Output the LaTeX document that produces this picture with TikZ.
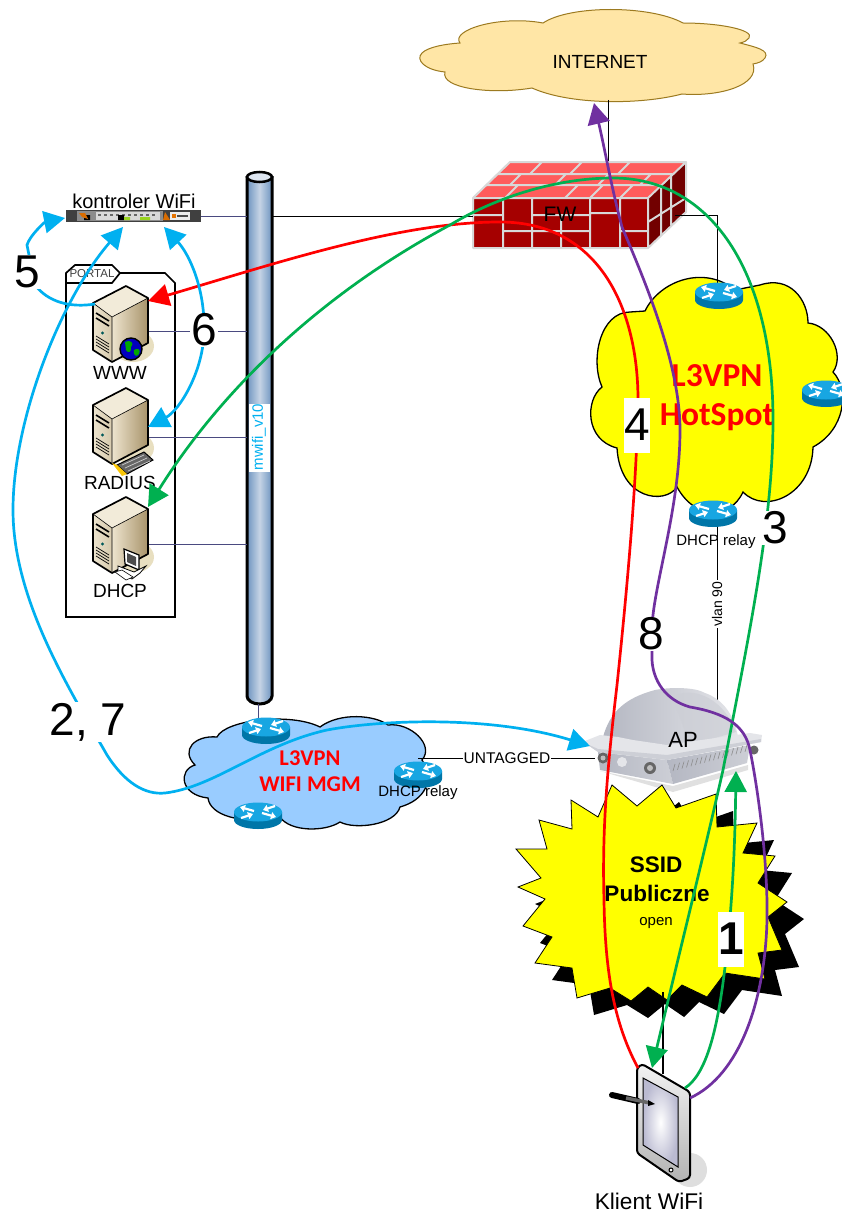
\documentclass[tikz,border=0pt]{standalone}
\usepackage{fontspec}
\setmainfont{Liberation Sans}
\newfontfamily\calb{Carlito}[BoldFont=Carlito Bold]
\usetikzlibrary{arrows.meta,calc,shapes.geometric}
\definecolor{cyanb}{HTML}{00B0F0}
\definecolor{greenb}{HTML}{00B050}
\definecolor{purpleb}{HTML}{7030A0}
\definecolor{linkb}{HTML}{4A4A80}
\definecolor{pureyellow}{HTML}{FFFF00}
\definecolor{purered}{HTML}{FF0000}
\definecolor{cloudgold}{HTML}{FFE6A6}
\definecolor{cloudgoldline}{HTML}{9C7A20}
\definecolor{cloudblue}{HTML}{99CCFF}
\definecolor{fwfront}{HTML}{A50000}
\definecolor{fwtop}{HTML}{FF5C5C}
\definecolor{fwside}{HTML}{720000}
\definecolor{mortar}{HTML}{D8D8D8}
\definecolor{srvtop}{HTML}{F2EBD9}
\definecolor{srvlight}{HTML}{EDE4CE}
\definecolor{srvmid}{HTML}{D5C9AC}
\definecolor{srvdark}{HTML}{A8936A}
\definecolor{srvshadow}{HTML}{E8DFC0}
\definecolor{polee}{HTML}{6E94C0}
\definecolor{polec}{HTML}{C6D4E6}
\definecolor{rtrtop}{HTML}{18A6E2}
\definecolor{rtrbody}{HTML}{0076A8}
\definecolor{apl}{HTML}{E4E5E9}
\definecolor{apm}{HTML}{CDCFD6}
\definecolor{apd}{HTML}{B4B7C2}
\newcommand{\txt}[1]{\fontsize{#1}{#1}\selectfont}
\tikzset{
 thinlink/.style={draw=linkb,line width=0.9pt},
 blacklink/.style={draw=black,line width=0.9pt},
 flow/.style={line width=2.7pt},
 tipped/.style={-{Triangle[length=21pt,width=22pt]}},
 bothtip/.style={{Triangle[length=21pt,width=22pt]}-{Triangle[length=21pt,width=22pt]}},
 cloudline/.style={draw=black,line width=1.3pt},
 num/.style={inner sep=1pt,fill=white,text=black},
 lab/.style={inner sep=0pt,text=black},
 redtitle/.style={inner sep=0pt,text=purered,font=\calb\bfseries},
 router/.pic={
  \fill[rtrbody] (-24,0) -- (-24,8) arc[x radius=24,y radius=9,start angle=180,end angle=0] -- (24,0) -- cycle;
  \fill[rtrtop] (0,0) ellipse[x radius=24,y radius=9.5];
  \foreach \a/\b/\c/\d in {-4/-1/-18/-5,4/1/18/5,17/-6/5/-2,-17/6/-5/2}{
   \draw[white,line width=2.2pt,-{Triangle[length=5pt,width=7pt]}] (\a,\b) -- (\c,\d);}
 },
 server/.pic={
  \fill[srvshadow] (40,60) ellipse[x radius=21,y radius=16];
  \fill[srvtop] (0,17) -- (33,0) -- (55,12) -- (19,31) -- cycle;
  \shade[left color=srvlight,right color=srvmid] (0,17) -- (19,31) -- (19,76) -- (0,64) -- cycle;
  \shade[left color=srvlight,right color=srvdark] (19,31) -- (55,12) -- (55,57) -- (19,76) -- cycle;
  \draw[black,line width=1.7pt,line join=round] (0,17) -- (33,0) -- (55,12) -- (55,57) -- (19,76) -- (0,64) -- cycle;
  \draw[black,line width=.6pt] (0,17) -- (19,31) -- (55,12) (19,31) -- (19,76);
  \draw[black,line width=1.6pt] (3,27) -- (16,35) (3,32) -- (16,40);
  \draw[black,line width=.7pt] (3,50) -- (16,58) (3,53) -- (16,61) (3,56) -- (16,64) (3,59) -- (16,67);
  \fill[teal!70!black] (9.5,47) circle (1.7);
 },
}
\begin{document}
\begin{tikzpicture}[x=1pt,y=-1pt]
\useasboundingbox (0,0) rectangle (842,1212);
\fill[white] (0,0) rectangle (842,1212);

% --- clouds
\draw[draw=cloudgoldline,line width=1pt,fill=cloudgold] (543,23) .. controls (570,5) and (650,5) .. (683,23) .. controls (720,23) and (755,30) .. (749,38) .. controls (747,41) and (744,42) .. (740,43) .. controls (755,47) and (770,50) .. (765,58) .. controls (762,62) and (758,63) .. (753,64) .. controls (760,85) and (720,97) .. (682,94) .. controls (640,105) and (570,105) .. (532,88) .. controls (490,95) and (440,88) .. (445,72) .. controls (425,70) and (415,60) .. (422,53) .. controls (428,47) and (445,44) .. (460,43) .. controls (450,30) and (500,15) .. (543,23) -- cycle;
\node[lab] (internet) at (600,62) {\txt{19}INTERNET};

\coordinate (netbot) at (608,100);
\coordinate (fwtopc) at (608,164);
\draw[blacklink] (netbot) -- (fwtopc);

% --- yellow cloud
\draw[cloudline,fill=pureyellow] (645,311) .. controls (660,280) and (705,265) .. (735,290) -- (760,285) .. controls (790,275) and (808,300) .. (808,323) .. controls (830,325) and (845,355) .. (833,372) .. controls (850,390) and (845,430) .. (813,447) .. controls (812,495) and (765,515) .. (743,492) .. controls (730,520) and (695,520) .. (677,487) .. controls (665,505) and (620,500) .. (617,448) .. controls (585,440) and (585,400) .. (602,387) .. controls (590,360) and (600,312) .. (630,312) -- (645,311) -- cycle;

% --- firewall
\fill[fwfront] (473,198) rectangle (648,248);
\fill[fwtop] (473,198) -- (510,162) -- (686,162) -- (648,198) -- cycle;
\fill[fwside] (648,198) -- (686,162) -- (686,212) -- (648,248) -- cycle;
\draw[mortar,line width=2pt,line join=round]
 (473,198) -- (510,162) -- (686,162) -- (648,198) -- cycle
 (473,198) rectangle (648,248)
 (648,198) -- (686,162) -- (686,212) -- (648,248)
 (473,215) -- (503,215) (503,198) -- (503,248) (503,231) -- (532,231) (532,198) -- (532,248)
 (532,215) -- (590,215) (532,231) -- (590,231) (561,215) -- (561,248) (590,198) -- (590,248)
 (590,213) -- (620,213) (620,198) -- (620,248) (620,231) -- (648,231)
 (498,174) -- (672,174) (486,185) -- (660,185)
 (530,174) -- (542,162) (570,174) -- (582,162) (618,174) -- (630,162)
 (510,185) -- (521,174) (555,185) -- (566,174) (598,185) -- (609,174) (640,185) -- (651,174)
 (505,198) -- (518,185) (565,198) -- (578,185) (590,198) -- (603,185) (620,198) -- (633,185)
 (661,186) -- (661,235) (671,175) -- (671,225) (648,222) -- (686,198);
\node[lab] (fw) at (560,214) {\txt{21}FW};
\coordinate (fwleft) at (473,216);
\coordinate (fwright) at (675,215);

% --- routers in yellow cloud
\coordinate (rTopC) at (717,283);
\draw[blacklink] (fwright) -- (717,215) -- (rTopC);
\pic at (719,292) {router};
\pic at (826,390) {router};
\pic at (713,510) {router};
\node[redtitle] (vpn1) at (717,376) {\txt{33.5}L3VPN};
\node[redtitle] (vpn2) at (717,417) {\txt{33.5}HotSpot};
\node[lab] (relay1) at (716,542) {\txt{15}DHCP relay};
\coordinate (vl1) at (717,527);
\coordinate (vl2) at (717,702);
\draw[blacklink] (vl1) -- (vl2);
\node[lab,fill=white,inner sep=1pt,rotate=90] (vlan) at (717,604) {\txt{14}vlan 90};

% --- pole
\shade[left color=polee,right color=polee,middle color=polec] (247,176) -- (247,696) arc[x radius=12.5,y radius=8,start angle=180,end angle=0] -- (272,176) -- cycle;
\fill[white] (249,404) rectangle (270,472);
\draw[black,line width=3pt] (247,176) -- (247,696) arc[x radius=12.5,y radius=8,start angle=180,end angle=0] -- (272,176);
\fill[polec!60!white,draw=black,line width=2.5pt] (259.5,177) ellipse[x radius=12.5,y radius=5];
\node[inner sep=0pt,text=cyanb,rotate=90] (pole) at (259,437) {\txt{15}mwifi\_v10};

% --- controller
\coordinate (ctlR) at (201,216);
\coordinate (poleL) at (247,216);
\coordinate (poleR) at (272,216);
\draw[thinlink] (ctlR) -- (poleL);
\draw[blacklink] (poleR) -- (fwleft);
\fill[black!75] (66,210) rectangle (201,222);
\fill[black!45] (77,211) rectangle (163,221);
\fill[white!70!gray] (96,212) rectangle (160,220);
\foreach \i in {0,...,9}{ \fill[black!60] (98+\i*6,214) rectangle (101+\i*6,216); }
\fill[black] (118,215) rectangle (124,220) (84,215) rectangle (90,220);
\fill[yellow!60!green] (124,217) rectangle (130,220) (140,217) rectangle (150,220);
\fill[orange!85!black] (79,213) -- (85,213) -- (88,219) -- (82,217) -- cycle;
\fill[orange!85!black] (165,212) -- (170,220) -- (163,220) -- cycle;
\fill[white!85!gray] (170,212) rectangle (190,220);
\fill[orange!90!black] (172,214) rectangle (176,218);
\fill[black!70] (177,215) rectangle (188,217);
\node[lab] (ctl) at (134,201) {\txt{20}kontroler WiFi};

% --- portal box
\draw[black,line width=1.7pt,fill=white] (66,283) -- (66,617) -- (175,617) -- (175,283) -- (165,273) -- (120,273);
\draw[black,line width=1.7pt,fill=white] (66,283) -- (66,273) -- (75,265) -- (112,265) -- (120,273) -- (112,283) -- cycle;
\node[inner sep=0pt,text=black!75] (portal) at (92,274) {\txt{11.5}PORTAL};

% --- server links (under the servers)
\foreach \n/\y in {a/331,b/437,c/544}{
 \coordinate (srv\n) at (148,\y);
 \coordinate (pole\n) at (247,\y);
 \draw[thinlink] (srv\n) -- (pole\n);
}
\pic at (93,286) {server};
\pic at (93,388) {server};
\pic at (93,497) {server};
% globe
\fill[blue!75!black,draw=black,line width=1.4pt] (131,349) circle (11);
\fill[green!65!black] (125,342) .. controls (130,339) and (135,343) .. (131,347) .. controls (132,352) and (128,354) .. (126,350) -- cycle;
\fill[green!65!black] (134,350) .. controls (138,347) and (141,350) .. (139,354) .. controls (136,358) and (133,355) .. (134,350) -- cycle;
% keyboard
\fill[black!60,draw=black,line width=1pt] (117,465) -- (144,452) -- (153,460) -- (127,474) -- cycle;
\fill[yellow!60!orange] (112,463) -- (117,465) -- (127,474) -- (122,476) -- cycle;
\draw[white!80!black,line width=.7pt] (122,465) -- (144,455) (125,468) -- (147,458) (128,471) -- (150,461);
% mini pc
\fill[white,draw=black,line width=1.2pt] (124,549) -- (139,555) -- (139,570) -- (125,564) -- cycle;
\fill[black!70] (127,553) -- (136,557) -- (136,566) -- (127,562) -- cycle;
\fill[white,draw=black,line width=.8pt] (118,566) -- (134,572) -- (146,566) -- (140,573) -- (132,579) -- (118,572) -- cycle;
\fill[white,draw=black,line width=.6pt] (115,572) -- (122,570) -- (133,577) -- (126,580) -- cycle;
\node[lab] (www) at (120,373) {\txt{19}WWW};
\node[lab] (radius) at (120,483) {\txt{19}RADIUS};
\node[lab] (dhcp) at (120,591) {\txt{19}DHCP};

% --- blue cloud
\draw[cloudline,fill=cloudblue] (195,765) .. controls (180,750) and (195,735) .. (217,737) .. controls (225,720) and (290,712) .. (320,727) .. controls (340,712) and (375,715) .. (388,725) .. controls (410,722) and (435,745) .. (422,760) .. controls (435,780) and (425,800) .. (400,807) .. controls (395,825) and (355,830) .. (340,822) .. controls (325,832) and (290,832) .. (280,817) .. controls (240,825) and (210,815) .. (208,798) .. controls (180,795) and (178,770) .. (195,765) -- cycle;
\coordinate (pole2) at (258,704);
\coordinate (rB1) at (258,722);
\draw[thinlink] (pole2) -- (rB1);
\pic at (266,727) {router};
\pic at (258,812) {router};
\pic at (418,771) {router};
\node[redtitle] (wm1) at (310,758) {\txt{22.5}L3VPN};
\node[redtitle] (wm2) at (310,784) {\txt{22.5}WIFI MGM};
\node[lab] (relay2) at (418,793) {\txt{15}DHCP relay};

% --- AP
\fill[black!12] (600,771) -- (673,786) -- (748,765) -- (748,770) -- (673,792) -- cycle;
\shade[left color=apd,right color=apl] (603,737) .. controls (610,712) and (625,698) .. (655,690) .. controls (670,687) and (695,687) .. (705,693) .. controls (725,700) and (735,718) .. (738,737) -- (660,755) -- cycle;
\fill[apm,opacity=.7] (672,697) .. controls (690,686) and (722,695) .. (736,732) -- (690,745) -- cycle;
\shade[left color=apd,right color=apm] (598,752) -- (667,760) -- (673,784) -- (600,770) -- cycle;
\shade[left color=apd,right color=apm] (667,760) -- (750,745) -- (747,763) -- (673,784) -- cycle;
\fill[apl] (585,741) -- (600,735) -- (618,737) -- (633,740) -- (667,745) -- (750,733) -- (762,735) -- (761,742) -- (667,760) -- (598,752) -- (585,743) -- cycle;
\fill[apm] (585,743) -- (598,749) -- (667,755) -- (761,739) -- (761,742) -- (667,760) -- (598,752) -- cycle;
\fill[black!60] (603,758) circle (5.5) (650,768) circle (6) (754,750) circle (4.5);
\fill[black!25] (603,758) circle (2.5) (650,768) circle (3);
\fill[apl] (622,762) circle (5);
\foreach \i in {0,...,16}{ \draw[black!45,line width=.6pt] (673+\i*4.5,771-\i*1.2) -- (675+\i*4.5,764-\i*1.2); }
\coordinate (apL) at (595,758);
\coordinate (rR) at (418,758);
\draw[blacklink] (rR) -- (apL);
\node[lab,fill=white,inner sep=1pt] (untag) at (507,758) {\txt{15.5}UNTAGGED};
\node[lab] (ap) at (683,740) {\txt{22}AP};

% --- burst
\def\burst{(612,785) -- (637,806) -- (662,785) -- (676,808) -- (716,794) -- (717,827) -- (757,823) -- (743,853) -- (775,856) -- (758,883) -- (787,902) -- (768,917) -- (782,950) -- (758,953) -- (765,979) -- (725,973) -- (707,997) -- (682,985) -- (667,1000) -- (648,987) -- (631,1001) -- (610,988) -- (577,998) -- (572,968) -- (535,963) -- (552,937) -- (523,926) -- (545,899) -- (518,887) -- (541,878) -- (516,849) -- (547,849) -- (539,820) -- (572,829) -- (571,800) -- (598,817) -- cycle}
\fill[black,shift={(17,17)}] \burst;
\draw[fill=pureyellow,draw=black,line width=.8pt] \burst;
\node[inner sep=0pt,font=\bfseries] (ssid1) at (656,865) {\txt{22.5}SSID};
\node[inner sep=0pt,font=\bfseries] (ssid2) at (657,893) {\txt{22.5}Publiczne};
\node[lab] (open) at (656,923) {\txt{15}open};

% --- tablet
\coordinate (bstop) at (663,992);
\coordinate (tabt) at (663,1074);
\fill[black!13] (690,1170) ellipse[x radius=17,y radius=17];
\draw[blacklink,line width=1.2pt] (bstop) -- (tabt);
\shade[top color=black!5,bottom color=black!30,draw=black,line width=2pt,rounded corners=3pt] (637,1068) -- (642,1064) -- (690,1092) -- (690,1178) -- (679,1182) -- (637,1153) -- cycle;
\shade[inner color=white,outer color=blue!20!gray!45,draw=black,line width=1pt] (643,1078) -- (678,1097) -- (678,1167) -- (643,1145) -- cycle;
\draw[black,line width=1pt,fill=white] (671,1170) circle (2);
\draw[black,line width=6pt,line cap=round] (612,1095) -- (638,1101);
\draw[black!60,line width=3.5pt] (626,1098) -- (650,1103);
\fill[black] (648,1100) -- (655,1104) -- (648,1106) -- cycle;
\node[lab] (client) at (649,1201) {\txt{22.7}Klient WiFi};

% --- flows
\coordinate (tabTL) at (638,1068);
\coordinate (tabTR) at (685,1088);
\coordinate (tabR) at (690,1098);
\coordinate (wwwTip) at (148,301);
\coordinate (dhcpTip) at (148,507);
\coordinate (tabTip) at (652,1068);
\coordinate (apTip) at (736,771);
\coordinate (netTip) at (594,103);
\coordinate (ctlTop) at (123,227);
\coordinate (apBlue) at (590,746);
\coordinate (ctlLeft) at (65,218);
\coordinate (wwwL) at (95,304);
\coordinate (ctlRt) at (164,227);
\coordinate (radTip) at (148,427);

\draw[purered,flow,tipped] (tabTL) .. controls (615,1025) and (605,975) .. (604,900) .. controls (602,830) and (607,770) .. (617,685) .. controls (627,590) and (637,480) .. (638,400) .. controls (638,310) and (600,222) .. (500,222) .. controls (400,222) and (280,262) .. (wwwTip);
\draw[greenb,flow,bothtip] (dhcpTip) .. controls (215,400) and (310,300) .. (450,225) .. controls (500,195) and (560,178) .. (613,178) .. controls (710,178) and (773,270) .. (773,420) .. controls (773,520) and (750,630) .. (723,770) .. controls (705,850) and (680,950) .. (tabTip);
\draw[greenb,flow,tipped] (tabTR) .. controls (705,1075) and (717,1035) .. (725,967) .. controls (733,900) and (735,840) .. (apTip);
\draw[purpleb,flow,tipped] (tabR) .. controls (740,1075) and (765,1000) .. (767,920) .. controls (768,870) and (760,800) .. (750,750) .. controls (745,725) and (725,713) .. (690,707) .. controls (665,700) and (653,680) .. (652,660) -- (652,630) .. controls (652,590) and (680,510) .. (680,430) .. controls (680,360) and (640,270) .. (622,227) .. controls (612,190) and (605,150) .. (netTip);
\draw[cyanb,flow,bothtip] (ctlTop) .. controls (60,300) and (13,420) .. (13,510) .. controls (13,600) and (70,690) .. (107,755) .. controls (125,783) and (145,795) .. (165,793) .. controls (215,787) and (260,745) .. (327,730) .. controls (380,720) and (490,715) .. (apBlue);
\draw[cyanb,flow,tipped] (wwwL) .. controls (70,308) and (48,302) .. (35,285) -- (27,245) .. controls (30,235) and (45,222) .. (ctlLeft);
\draw[cyanb,flow,bothtip] (ctlRt) .. controls (190,255) and (205,290) .. (204,330) .. controls (204,370) and (180,410) .. (radTip);

% --- labels
\node[num] (n5) at (27,272) {\txt{46}5};
\node[num] (n6) at (204,330) {\txt{46}6};
\node[num] (n27) at (88,722) {\txt{46}2, 7};
\node[num] (n8) at (651,634) {\txt{46}8};
\node[num] (n3) at (775,528) {\txt{46}3};
\node[fill=white,inner sep=0pt,minimum width=26pt,minimum height=55pt] (n4) at (637,425) {\txt{46}4};
\node[fill=white,inner sep=0pt,minimum width=26pt,minimum height=55pt] (n1) at (731,939) {\txt{46}\bfseries 1};
\end{tikzpicture}
\end{document}
